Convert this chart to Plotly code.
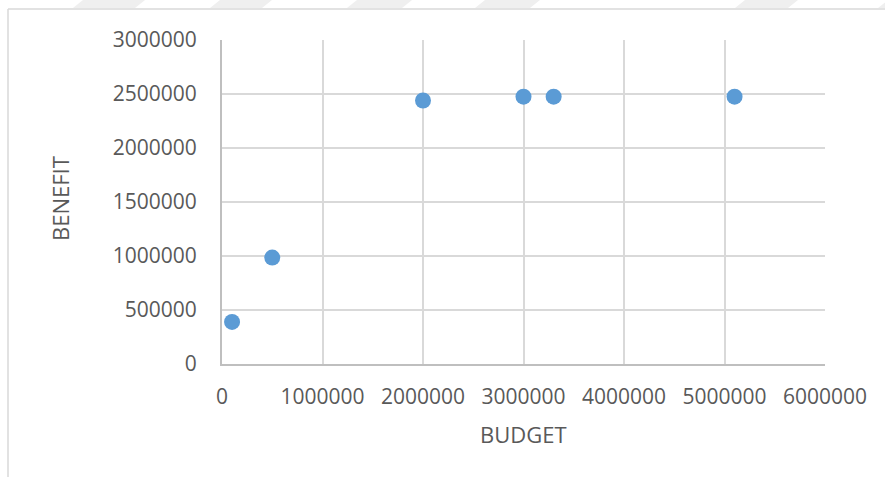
import plotly.graph_objects as go

budget = [100000, 500000, 2000000, 3000000, 3300000, 5100000]
benefit = [390000, 985000, 2440000, 2475000, 2475000, 2475000]

x_ticks = [0, 1000000, 2000000, 3000000, 4000000, 5000000, 6000000]
y_ticks = [0, 500000, 1000000, 1500000, 2000000, 2500000, 3000000]

W, H = 885, 477
L, R, T, B = 222, 825, 40, 364


def px(x):
    return (x - L) / (R - L)


def py(y):
    return (B - y) / (B - T)


fig = go.Figure()
fig.add_trace(go.Scatter(
    x=budget, y=benefit, mode="markers",
    marker=dict(color="#5b9bd5", size=16, line=dict(width=0)),
    showlegend=False, hoverinfo="x+y",
))

font = dict(family="Open Sans, sans-serif", size=21, color="#595959")
tfont = dict(family="Open Sans, sans-serif", size=22, color="#595959")

fig.update_xaxes(
    range=[0, 6000000], tickvals=x_ticks, ticktext=[str(v) for v in x_ticks],
    showgrid=True, gridcolor="#d9d9d9", gridwidth=2,
    showline=True, linecolor="#bfbfbf", linewidth=2,
    zeroline=False, ticks="", ticklabelstandoff=13, tickfont=font,
    fixedrange=True,
)
fig.update_yaxes(
    range=[0, 3000000], tickvals=y_ticks, ticktext=[str(v) for v in y_ticks],
    showgrid=True, gridcolor="#d9d9d9", gridwidth=2,
    showline=True, linecolor="#bfbfbf", linewidth=2,
    zeroline=False, ticks="", ticklabelstandoff=19, tickfont=font,
    fixedrange=True,
)

shapes = []
# chart area border (left and top)
shapes.append(dict(type="line", xref="paper", yref="paper",
                   x0=px(8), y0=py(477), x1=px(8), y1=py(9),
                   line=dict(color="#d9d9d9", width=1.5)))
shapes.append(dict(type="line", xref="paper", yref="paper",
                   x0=px(8), y0=py(9), x1=px(885), y1=py(9),
                   line=dict(color="#d9d9d9", width=1.5)))
# faint watermark stripes at the very top
stripes = [(73, 135), (210, 262), (347, 402), (475, 530), (735, 788), (878, 900)]
for a, b in stripes:
    path = "M {},{} L {},{} L {},{} L {},{} Z".format(
        px(a), py(8), px(b), py(8), px(b + 10), py(0), px(a + 10), py(0))
    shapes.append(dict(type="path", xref="paper", yref="paper", path=path,
                       fillcolor="#efefef", line=dict(width=0), layer="below"))

annotations = [
    dict(text="BUDGET", xref="paper", yref="paper", x=px(523), y=py(434),
         showarrow=False, font=tfont, xanchor="center", yanchor="middle"),
    dict(text="BENEFIT", xref="paper", yref="paper", x=px(60), y=py(199),
         showarrow=False, font=tfont, textangle=-90,
         xanchor="center", yanchor="middle"),
]

fig.update_layout(
    width=W, height=H,
    margin=dict(l=L, r=W - R, t=T, b=H - B),
    paper_bgcolor="white", plot_bgcolor="white",
    shapes=shapes, annotations=annotations,
)

fig.write_html("out.html")
